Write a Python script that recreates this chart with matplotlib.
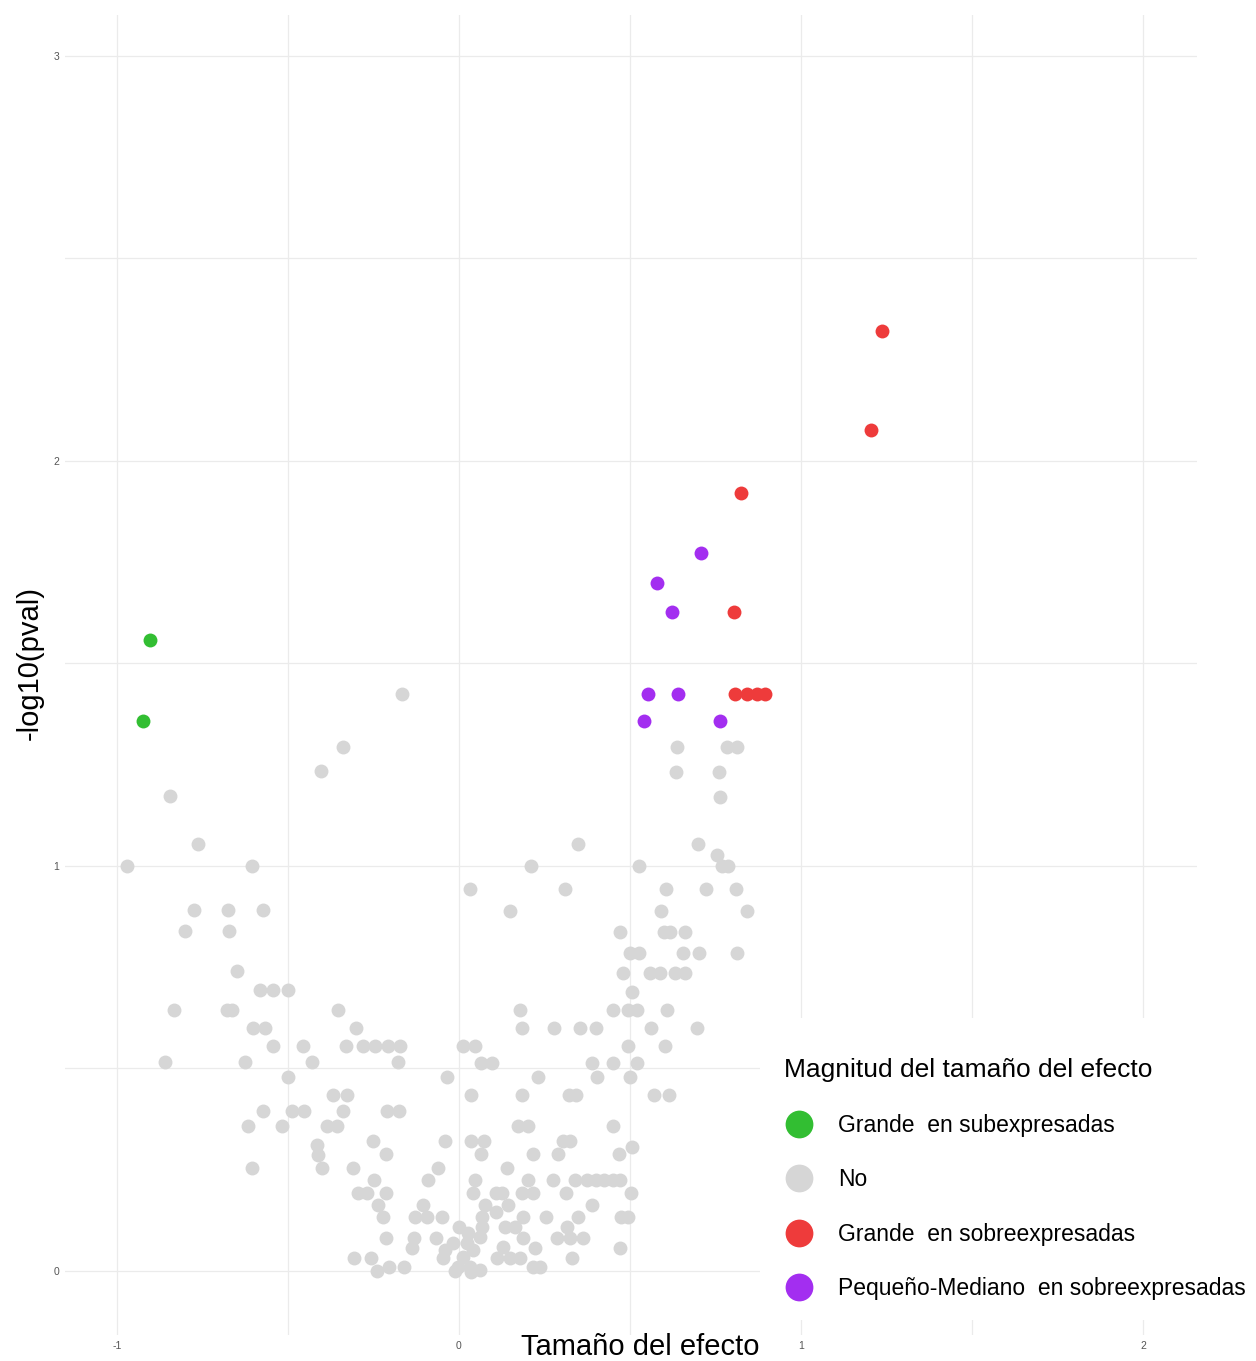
import numpy as np
import matplotlib
matplotlib.use("Agg")
import matplotlib.pyplot as plt
from matplotlib.lines import Line2D
from matplotlib.patches import Rectangle

plt.rcParams['font.family'] = ['Liberation Sans', 'DejaVu Sans']

# --- data: effect size vs -log10(pval), by category ---
no_x = [-0.167, -0.339, -0.404, -0.845, -0.763, -0.971, -0.605,
        -0.775, -0.675, -0.573, -0.801, -0.672, -0.649,
        -0.582, -0.544, -0.500, -0.833, -0.678, -0.664, -0.354,
        -0.602, -0.567, -0.301,
        -0.544, -0.456, -0.330, -0.281, -0.246, -0.208, -0.173,
        -0.860, -0.626, -0.430, -0.178,
        -0.500, -0.035, 0.231, 0.404, 0.500,
        -0.368, -0.327, 0.035, 0.184, 0.322, 0.342, 0.570, 0.615,
        -0.573, -0.488, -0.453, -0.339, -0.211, -0.175,
        -0.617, -0.518, -0.386, -0.357, 0.173, 0.202, 0.450,
        -0.251, -0.041, 0.035, 0.073, 0.304, 0.325,
        0.506, -0.415,
        -0.412, -0.213, 0.064, 0.216, 0.289, 0.468,
        -0.605, -0.401, -0.310, -0.062, 0.140,
        -0.249, -0.091, 0.047, 0.202, 0.275, 0.339, 0.375, 0.400, 0.425, 0.450, 0.470,
        -0.295, -0.269, -0.213, 0.041, 0.108, 0.126, 0.184, 0.216, 0.313, 0.503,
        -0.237, -0.105, 0.076, 0.143, 0.389,
        0.108,
        -0.222, -0.129, -0.094, -0.050, 0.067, 0.187, 0.254, 0.348, 0.474, 0.494,
        0.000, 0.067, 0.135, 0.164, 0.316,
        0.026,
        0.061,
        -0.213, -0.132, -0.068, 0.187, 0.287, 0.325, 0.363,
        -0.018, 0.023,
        0.129,
        -0.137, 0.222, 0.471,
        -0.041, 0.041,
        -0.307, -0.257, -0.048, 0.012, 0.111, 0.149, 0.178, 0.330,
        -0.205, -0.161, -0.003, 0.032, 0.216, 0.237,
        -0.240, -0.012, 0.061, 0.035,
        0.637, 0.784, 0.813,
        0.635, 0.760,
        0.763,
        0.348, 0.699,
        0.754,
        0.211, 0.526, 0.769, 0.787,
        0.032, 0.310, 0.605, 0.722, 0.810,
        0.149, 0.591, 0.842,
        0.471, 0.599, 0.617, 0.661,
        0.500, 0.526, 0.655, 0.702, 0.813,
        0.480, 0.558, 0.588, 0.632, 0.661,
        0.506,
        0.178, 0.450, 0.494, 0.520, 0.608,
        0.184, 0.278, 0.354, 0.401, 0.561, 0.696,
        0.012, 0.047, 0.494, 0.602,
        0.065, 0.096, 0.389, 0.450, 0.520]
no_y = [1.425, 1.294, 1.235, 1.173, 1.054, 1.000, 1.000,
        0.891, 0.891, 0.891, 0.840, 0.840, 0.741,
        0.694, 0.694, 0.694, 0.644, 0.644, 0.644, 0.644,
        0.600, 0.600, 0.600,
        0.556, 0.556, 0.556, 0.556, 0.556, 0.556, 0.556,
        0.516, 0.516, 0.516, 0.516,
        0.479, 0.479, 0.479, 0.479, 0.479,
        0.435, 0.435, 0.435, 0.435, 0.435, 0.435, 0.435, 0.435,
        0.395, 0.395, 0.395, 0.395, 0.395, 0.395,
        0.358, 0.358, 0.358, 0.358, 0.358, 0.358, 0.358,
        0.321, 0.321, 0.321, 0.321, 0.321, 0.321,
        0.306, 0.311,
        0.287, 0.289, 0.289, 0.289, 0.289, 0.289,
        0.254, 0.254, 0.254, 0.254, 0.254,
        0.225, 0.225, 0.225, 0.225, 0.225, 0.225, 0.225, 0.225, 0.225, 0.225, 0.225,
        0.193, 0.193, 0.193, 0.193, 0.193, 0.193, 0.193, 0.193, 0.193, 0.193,
        0.163, 0.163, 0.163, 0.163, 0.163,
        0.146,
        0.133, 0.133, 0.133, 0.133, 0.133, 0.133, 0.133, 0.133, 0.133, 0.133,
        0.109, 0.109, 0.109, 0.109, 0.109,
        0.094,
        0.084,
        0.081, 0.081, 0.081, 0.081, 0.081, 0.081, 0.081,
        0.069, 0.069,
        0.059,
        0.057, 0.057, 0.057,
        0.052, 0.052,
        0.032, 0.032, 0.032, 0.035, 0.032, 0.032, 0.032, 0.032,
        0.010, 0.010, 0.010, 0.010, 0.010, 0.010,
        0.000, 0.000, 0.002, -0.002,
        1.294, 1.294, 1.294,
        1.232, 1.232,
        1.170,
        1.054, 1.054,
        1.027,
        1.000, 1.000, 1.000, 1.000,
        0.943, 0.943, 0.943, 0.943, 0.943,
        0.889, 0.889, 0.889,
        0.837, 0.837, 0.837, 0.837,
        0.785, 0.785, 0.785, 0.785, 0.785,
        0.736, 0.736, 0.736, 0.736, 0.736,
        0.689,
        0.644, 0.644, 0.644, 0.644, 0.644,
        0.600, 0.600, 0.600, 0.600, 0.600, 0.600,
        0.556, 0.556, 0.556, 0.556,
        0.514, 0.514, 0.514, 0.514, 0.514]

sub_x = [-0.904, -0.924]
sub_y = [1.558, 1.358]

sobre_x = [1.237, 1.205, 0.825, 0.804, 0.807, 0.842, 0.871, 0.895]
sobre_y = [2.321, 2.077, 1.921, 1.627, 1.425, 1.425, 1.425, 1.425]

pm_x = [0.708, 0.579, 0.623, 0.553, 0.640, 0.541, 0.763]
pm_y = [1.773, 1.699, 1.627, 1.425, 1.425, 1.358, 1.358]

labels = ["Grande  en subexpresadas", "No", "Grande  en sobreexpresadas",
          "Pequeño-Mediano  en sobreexpresadas"]
colors = ["#32BE32", "#D6D6D6", "#EE3B3B", "#A32EF0"]

W, H = 1256, 1361
fig = plt.figure(figsize=(W / 100, H / 100), dpi=100)
ax = fig.add_axes([65 / W, 1 - 1335 / H, (1197 - 65) / W, (1335 - 15) / H])

ax.scatter(no_x, no_y, s=100, color=colors[1], linewidths=0, zorder=3)
ax.scatter(sub_x, sub_y, s=100, color=colors[0], linewidths=0, zorder=4)
ax.scatter(sobre_x, sobre_y, s=100, color=colors[2], linewidths=0, zorder=4)
ax.scatter(pm_x, pm_y, s=100, color=colors[3], linewidths=0, zorder=4)

ax.set_xlim(-1.152, 2.158)
ax.set_ylim(-0.158, 3.101)
ax.set_xticks([-1, 0, 1, 2])
ax.set_xticklabels(["-1", "0", "1", "2"])
ax.set_yticks([0, 1, 2, 3])
ax.set_yticklabels(["0", "1", "2", "3"])
ax.set_xticks(np.arange(-1, 2.5, 0.5), minor=True)
ax.set_yticks(np.arange(0, 3.5, 0.5), minor=True)
ax.grid(True, which='both', color='#EBEBEB', linewidth=0.9)
ax.set_axisbelow(True)
ax.tick_params(which='both', length=0)
ax.tick_params(axis='x', pad=4, labelsize=7.5, labelcolor='#555555')
ax.tick_params(axis='y', pad=4, labelsize=7.5, labelcolor='#555555')
for sp in ax.spines.values():
    sp.set_visible(False)

fig.text(640 / W, 1 - 1347 / H, "Tamaño del efecto", ha='center', va='center', fontsize=21)
fig.text(30 / W, 1 - 663 / H, "-log10(pval)", ha='center', va='center',
         rotation=90, fontsize=21)

# white box behind the legend, hides grid lines there
fig.add_artist(Rectangle((760 / W, 1 - 1320 / H), (W - 760) / W, (1320 - 1018) / H,
                         transform=fig.transFigure, facecolor='white',
                         edgecolor='none', zorder=1))

handles = [Line2D([], [], marker='o', linestyle='none', markersize=20,
                  markerfacecolor=c, markeredgewidth=0) for c in colors]
leg = fig.legend(handles, labels, loc='upper left',
                 bbox_to_anchor=(784 / W, 1 - 1058 / H), bbox_transform=fig.transFigure,
                 frameon=False, title="Magnitud del tamaño del efecto",
                 title_fontsize=19, fontsize=16.5, borderpad=0, borderaxespad=0,
                 handlelength=1.31, handletextpad=1.05, labelspacing=1.38,
                 alignment='left')
leg.set_zorder(5)

fig.savefig("out.png", dpi=100)
